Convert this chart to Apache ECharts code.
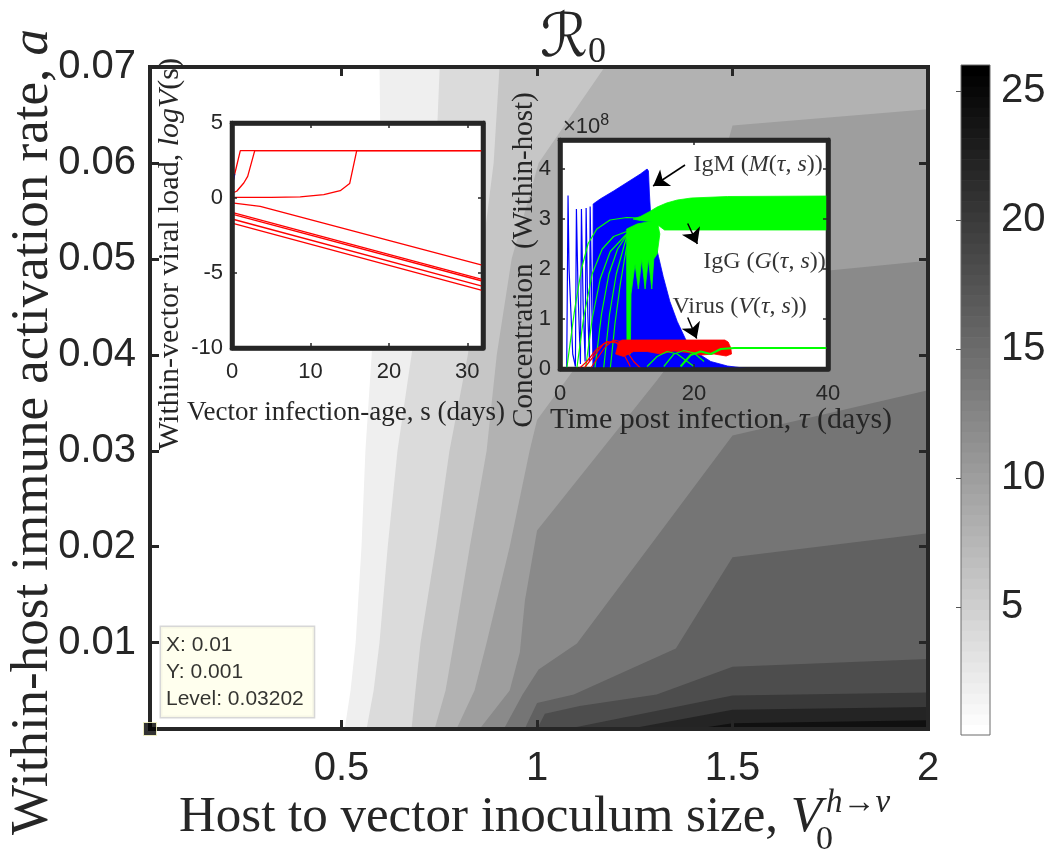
<!DOCTYPE html>
<html>
<head>
<meta charset="utf-8">
<script src="https://cdn.jsdelivr.net/npm/echarts@6.0.0/dist/echarts.min.js"></script>
<style>
html,body{margin:0;padding:0;background:#ffffff;}
#chart{width:1060px;height:853px;}
</style>
</head>
<body>
<div id="chart"></div>
<script>
// ---------------- main contour plot (R0) ----------------
const xTicks = [0.5, 1, 1.5, 2];
const yTicks = [0.01, 0.02, 0.03, 0.04, 0.05, 0.06, 0.07];
const xRange = [0.01, 2];
const yRange = [0.001, 0.07];
const colorTicks = [5, 10, 15, 20, 25];
const colorRange = [0.03202, 26];
const levels = [2, 4, 6, 8, 10, 12, 14, 16, 18, 20, 22, 24];
// contour lines [V0, a], from the upper/right end to the lower end
const c02 = [[0.597,0.07],[0.600,0.06],[0.590,0.05],[0.577,0.04],[0.561,0.03],[0.551,0.02],[0.536,0.01],[0.523,0.005],[0.508,0.001]];
const c04 = [[0.751,0.07],[0.741,0.06],[0.715,0.05],[0.679,0.04],[0.643,0.03],[0.618,0.02],[0.597,0.01],[0.582,0.005],[0.564,0.001]];
const c06 = [[0.904,0.07],[0.889,0.06],[0.858,0.05],[0.823,0.04],[0.776,0.03],[0.741,0.02],[0.702,0.01],[0.689,0.005],[0.679,0.001]];
const c08 = [[1.173,0.07],[1.004,0.06],[0.935,0.05],[0.897,0.04],[0.871,0.03],[0.828,0.02],[0.787,0.01],[0.766,0.005],[0.738,0.001]];
const c10 = [[2.0,0.0656],[1.5,0.0639],[1.473,0.06],[1.301,0.05],[1.122,0.04],[1.0,0.0332],[0.981,0.03],[0.930,0.02],[0.871,0.01],[0.840,0.005],[0.794,0.001]];
const c12 = [[2.0,0.0498],[1.5,0.0478],[1.306,0.0373],[1.0,0.0217],[0.969,0.0144],[0.956,0.009],[0.930,0.005],[0.853,0.001]];
const c14 = [[2.0,0.0363],[1.5,0.0316],[1.102,0.0099],[1.004,0.0072],[0.963,0.0046],[0.915,0.001]];
const c16 = [[2.0,0.0214],[1.5,0.0189],[1.355,0.0094],[1.094,0.0046],[1.0,0.0037],[0.974,0.0015],[0.969,0.001]];
const c18 = [[2.0,0.0083],[1.5,0.0075],[1.306,0.0046],[1.109,0.0034],[1.02,0.0026],[1.0,0.001]];
const c20 = [[2.0,0.0048],[1.5,0.0045],[1.076,0.001]];
const c22 = [[2.0,0.0033],[1.5,0.0030],[1.235,0.001]];
const c24 = [[2.0,0.0019],[1.5,0.0016],[1.404,0.001]];
const contourLines = [c02, c04, c06, c08, c10, c12, c14, c16, c18, c20, c22, c24];
const tipPoint = [0.01, 0.001];
const tipLevel = 0.03202;

// ---------------- left inset: within-vector viral load ----------------
const logVRiseA = [[0,0.78],[0.3,1.5],[1.06,3.16],[32,3.16]];
const logVRiseB = [[0,0.33],[0.6,0.45],[1.5,1.0],[2.0,1.44],[2.9,3.16],[32,3.16]];
const logVRiseC = [[0,0.04],[5,0.04],[8.7,0.07],[11.7,0.22],[13.8,0.49],[15,0.96],[15.9,3.16],[32,3.16]];
const logVDecayA = [[0,-0.33],[3.6,-0.56],[32,-4.49]];
const logVDecayB = [[0,-0.96],[32,-5.44]];
const logVDecayC = [[0,-1.07],[32,-5.55]];
const logVDecayD = [[0,-1.40],[32,-5.89]];
const logVDecayE = [[0,-1.67],[32,-6.18]];
const logVBlue = [[0,0.75],[0.35,1.6]];

// ---------------- right inset: within-host concentrations (x 1e8) ----------------
const igmSpikes = [[1.0,0.02],[1.2,3.47],[1.35,2.0],[1.9,0.3],[2.3,0.05],[2.45,3.2],[2.7,1.5],[3.05,0.1],[3.2,3.2],[3.45,1.3],[3.75,0.15],[3.9,3.22],[4.15,1.1],[4.4,0.15],[4.5,3.25],[4.75,1.2],[4.95,0.3]];
const igmBlock = [[4.9,0],[4.95,3.3],[6,3.4],[8,3.56],[10,3.73],[12,3.9],[13.0,4.0],[13.2,3.96],[13.35,3.5],[13.55,3.05],[14.0,2.65],[14.7,2.25],[15.4,1.85],[16.4,1.35],[17.5,0.95],[18.9,0.55],[20.5,0.32],[22.5,0.15],[25,0.06],[28.5,0.0]];
const igmBase = [[25,0.01],[40,0.0]];
const iggBand = [[10.9,3.0],[12,3.05],[13.4,3.15],[14.5,3.24],[15.9,3.32],[17.5,3.38],[19.6,3.42],[25,3.45],[40,3.46],[40,2.78],[15.6,2.78],[14.8,2.86],[13.5,2.95],[12,2.97]];
const iggBlade = [[9.95,2.8],[11.5,2.9],[13.4,2.95],[14.6,2.9],[14.9,2.7],[14.5,2.3],[14.0,2.2],[13.7,1.6],[13.2,2.2],[12.7,1.6],[12.2,2.2],[11.7,1.6],[11.2,2.1],[10.6,1.5],[10.5,0.3],[10.0,0.3],[9.95,2.0]];
const iggRiseA = [[1.0,0],[2.2,1.2],[3.2,2.0],[4.2,2.51],[5.5,2.8],[7.46,2.98],[9.95,3.03],[13.4,3.01]];
const iggRiseB = [[2.5,0],[3.5,1.0],[4.8,1.9],[6.3,2.4],[8,2.65],[9.95,2.75]];
const iggRiseC = [[3.8,0],[4.8,1.0],[6,1.8],[7.5,2.35],[9.95,2.7]];
const iggRiseD = [[5.2,0],[6.2,1.1],[7.3,1.9],[8.6,2.4],[9.95,2.68]];
const iggRiseE = [[6.5,0],[7.4,1.1],[8.4,1.9],[9.95,2.65]];
const iggRiseF = [[7.5,0],[8.2,0.9],[9.0,1.7],[9.95,2.45]];
const iggHumpA = [[13,0.05],[14.5,0.25],[16,0.35],[17.5,0.3],[19,0.15],[20,0.05]];
const iggHumpB = [[15.5,0.05],[17,0.3],[18.5,0.37],[20,0.32],[21.5,0.15]];
const iggLow = [[18,0.05],[19.5,0.28],[21,0.35],[22.5,0.3],[24,0.4],[26,0.42],[40,0.42]];
const virusBand = [[8.3,0.3],[8.8,0.55],[9.3,0.58],[24.6,0.58],[25.1,0.54],[25.5,0.42],[25.6,0.3],[24.8,0.26],[23,0.3],[21,0.28],[19,0.33],[17,0.36],[15,0.3],[13,0.35],[11,0.35],[9.5,0.25]];
const virusHumpA = [[2.8,0],[4,0.15],[5.5,0.4],[7,0.55],[8.5,0.52],[9.5,0.3],[10.5,0.05]];
const virusHumpB = [[4.5,0],[5.5,0.2],[6.8,0.45],[8,0.58],[9,0.55]];
const virusHumpC = [[3.5,0],[5,0.25],[6.5,0.5],[8,0.56],[9.5,0.45],[11,0.15],[12,0.02]];
const arrowIgM = [[18.66,4.08],[13.9,3.66]];
const arrowIgG = [[19.06,2.91],[20.5,2.5]];
const arrowVirus = [[19.06,1.03],[20.4,0.61]];
const labelIgM = [19.85, 4.08];
const labelIgG = [21.3, 2.14];
const labelVirus = [16.7, 1.24];

// ---------------- helpers ----------------
const INK = '#262626';
const SANS = '"Liberation Sans", Arial, Helvetica, sans-serif';
const SERIF = '"Liberation Serif", "Times New Roman", serif';

function grayHex(v) {
  const t = (v - colorRange[0]) / (colorRange[1] - colorRange[0]);
  const idx = Math.max(0, Math.min(63, Math.floor(t * 64)));
  const g = Math.round(255 * (1 - idx / 63));
  return 'rgb(' + g + ',' + g + ',' + g + ')';
}

function frameX(gridIndex, min, max, pos, lw, tickLen, tickW, labelOpt, interval, custom) {
  const ax = {
    type: 'value', gridIndex: gridIndex, min: min, max: max, position: pos, z: 12,
    axisLine: { show: true, onZero: false, lineStyle: { color: INK, width: lw } },
    axisTick: { show: true, inside: true, length: tickLen, lineStyle: { color: INK, width: tickW } },
    axisLabel: labelOpt ? Object.assign({ show: true, color: INK, fontFamily: SANS }, labelOpt) : { show: false },
    splitLine: { show: false }
  };
  if (interval) ax.interval = interval;
  if (custom) { ax.axisTick.customValues = custom; if (labelOpt) ax.axisLabel.customValues = custom; }
  return ax;
}

function lineS(data, color, xi, yi, w, z) {
  return { type: 'line', data: data, xAxisIndex: xi, yAxisIndex: yi, showSymbol: false, symbol: 'none',
    lineStyle: { color: color, width: w }, z: z, silent: true, animation: false, clip: true };
}

function polyS(polys, xi, yi, z) {
  return { type: 'custom', xAxisIndex: xi, yAxisIndex: yi, z: z, silent: true, clip: true,
    data: polys.map((p, i) => [p.pts[0][0], p.pts[0][1], i]),
    renderItem: function (params, api) {
      const p = polys[params.dataIndex];
      return { type: 'polygon', shape: { points: p.pts.map(q => api.coord(q)) },
        style: { fill: p.color, stroke: p.color, lineWidth: 0.8 } };
    } };
}

const chart = echarts.init(document.getElementById('chart'), null, { renderer: 'canvas' });

const option = {
  animation: false,
  backgroundColor: '#ffffff',
  grid: [
    { left: 150, top: 67, width: 778, height: 662, show: true, backgroundColor: '#ffffff', borderColor: INK, borderWidth: 4, z: 0 },
    { left: 961, top: 65, width: 29, height: 670 },
    { left: 232, top: 123, width: 251, height: 225, show: true, backgroundColor: '#ffffff', borderColor: INK, borderWidth: 4.5, z: 3 },
    { left: 560, top: 140, width: 268, height: 229, show: true, backgroundColor: '#ffffff', borderColor: INK, borderWidth: 4.5, z: 3 }
  ],
  xAxis: [
    frameX(0, xRange[0], xRange[1], 'bottom', 4, 9, 3, { fontSize: 40, margin: 20, formatter: v => String(v) }, null, xTicks),
    frameX(0, xRange[0], xRange[1], 'top', 4, 9, 3, null, null, xTicks),
    { type: 'value', gridIndex: 1, min: 0, max: 1, show: false },
    frameX(2, 0, 32, 'bottom', 4.5, 5, 1.5, { fontSize: 22, margin: 13, showMaxLabel: false }, 10),
    frameX(2, 0, 32, 'top', 4.5, 5, 1.5, null, 10),
    frameX(3, 0, 40, 'bottom', 4.5, 5, 1.5, { fontSize: 22, margin: 14 }, 20),
    frameX(3, 0, 40, 'top', 4.5, 5, 1.5, null, 20)
  ],
  yAxis: [
    frameX(0, yRange[0], yRange[1], 'left', 4, 9, 3, { fontSize: 40, margin: 14, formatter: v => v.toFixed(2) }, null, yTicks),
    frameX(0, yRange[0], yRange[1], 'right', 4, 9, 3, null, null, yTicks),
    { type: 'value', gridIndex: 1, min: colorRange[0], max: colorRange[1], position: 'right', z: 12,
      axisLine: { show: false },
      axisTick: { show: true, inside: true, length: 5, lineStyle: { color: '#555555', width: 1 }, customValues: colorTicks },
      axisLabel: { show: true, customValues: colorTicks, fontSize: 40, margin: 11, color: INK, fontFamily: SANS },
      splitLine: { show: false } },
    frameX(2, -10, 5, 'left', 4.5, 5, 1.5, { fontSize: 22, margin: 9 }, 5),
    frameX(2, -10, 5, 'right', 4.5, 5, 1.5, null, 5),
    frameX(3, 0, 4.58, 'left', 4.5, 5, 1.5, { fontSize: 22, margin: 9, showMaxLabel: false }, 1),
    frameX(3, 0, 4.58, 'right', 4.5, 5, 1.5, null, 1)
  ],
  series: [
    // filled contour bands
    { type: 'custom', xAxisIndex: 0, yAxisIndex: 0, z: 2, silent: true, clip: true,
      data: levels.map((L, i) => [xRange[0], yRange[0], i]),
      renderItem: function (params, api) {
        const i = params.dataIndex;
        const line = contourLines[i];
        const pts = line.map(p => api.coord(p));
        pts.push(api.coord([xRange[1], yRange[0]]));
        if (line[0][1] >= yRange[1] - 1e-9) pts.push(api.coord([xRange[1], yRange[1]]));
        const col = grayHex(levels[i]);
        return { type: 'polygon', shape: { points: pts }, style: { fill: col } };
      } },
    // colorbar
    { type: 'custom', xAxisIndex: 2, yAxisIndex: 2, z: 5, silent: true,
      data: [[0, colorRange[0]]],
      renderItem: function (params, api) {
        const children = [];
        const n = 64;
        for (let k = 0; k < n; k++) {
          const v0 = colorRange[0] + (colorRange[1] - colorRange[0]) * k / n;
          const v1 = colorRange[0] + (colorRange[1] - colorRange[0]) * (k + 1) / n;
          const p0 = api.coord([0, v0]);
          const p1 = api.coord([1, v1]);
          const g = Math.round(255 * (1 - k / 63));
          children.push({ type: 'rect', shape: { x: p0[0], y: p1[1], width: p1[0] - p0[0], height: p0[1] - p1[1] + 0.6 },
            style: { fill: 'rgb(' + g + ',' + g + ',' + g + ')' } });
        }
        const a = api.coord([0, colorRange[0]]);
        const b = api.coord([1, colorRange[1]]);
        children.push({ type: 'rect', shape: { x: a[0], y: b[1], width: b[0] - a[0], height: a[1] - b[1] },
          style: { fill: 'none', stroke: '#6b6b6b', lineWidth: 1 } });
        return { type: 'group', children: children };
      } },
    // data tip
    { type: 'scatter', xAxisIndex: 0, yAxisIndex: 0, z: 40, silent: true, clip: false,
      symbol: 'rect', symbolSize: 13,
      itemStyle: { color: '#000000', borderColor: '#ffffc8', borderWidth: 1 },
      data: [tipPoint],
      label: { show: true, position: [18, -95], align: 'left', verticalAlign: 'top',
        formatter: 'X: ' + tipPoint[0] + '\nY: ' + tipPoint[1] + '\nLevel: ' + tipLevel,
        backgroundColor: '#ffffea', borderColor: '#cdcdcd', borderWidth: 1.5, padding: [5, 10, 4, 5],
        fontSize: 21, lineHeight: 27, fontFamily: SANS, color: '#000000' } },

    // left inset
    lineS(logVDecayA, '#ff0000', 3, 3, 1.3, 6),
    lineS(logVDecayB, '#ff0000', 3, 3, 1.3, 6),
    lineS(logVDecayC, '#ff0000', 3, 3, 1.3, 6),
    lineS(logVDecayD, '#ff0000', 3, 3, 1.3, 6),
    lineS(logVDecayE, '#ff0000', 3, 3, 1.3, 6),
    lineS(logVRiseC, '#ff0000', 3, 3, 1.3, 6),
    lineS(logVRiseB, '#ff0000', 3, 3, 1.3, 6),
    lineS(logVRiseA, '#ff0000', 3, 3, 1.3, 6),
    lineS(logVBlue, '#0000ff', 3, 3, 1.3, 7),

    // right inset
    polyS([{ pts: igmBlock, color: '#0000ff' }], 5, 5, 5),
    lineS(igmSpikes, '#0000ff', 5, 5, 1.2, 5),
    lineS(igmBase, '#0000ff', 5, 5, 1.5, 5),
    lineS(iggRiseA, '#00ff00', 5, 5, 1.2, 6),
    lineS(iggRiseB, '#00ff00', 5, 5, 1.2, 6),
    lineS(iggRiseC, '#00ff00', 5, 5, 1.2, 6),
    lineS(iggRiseD, '#00ff00', 5, 5, 1.2, 6),
    lineS(iggRiseE, '#00ff00', 5, 5, 1.2, 6),
    lineS(iggRiseF, '#00ff00', 5, 5, 1.2, 6),
    polyS([{ pts: iggBand, color: '#00ff00' }, { pts: iggBlade, color: '#00ff00' }], 5, 5, 6),
    polyS([{ pts: virusBand, color: '#ff0000' }], 5, 5, 7),
    lineS(virusHumpA, '#ff0000', 5, 5, 1.2, 7),
    lineS(virusHumpB, '#ff0000', 5, 5, 1.2, 7),
    lineS(virusHumpC, '#ff0000', 5, 5, 1.2, 7),
    lineS(iggHumpA, '#00ff00', 5, 5, 1.2, 7),
    lineS(iggHumpB, '#00ff00', 5, 5, 1.2, 7),
    lineS(iggLow, '#00ff00', 5, 5, 2, 7),
    { type: 'lines', coordinateSystem: 'cartesian2d', xAxisIndex: 5, yAxisIndex: 5, z: 9, silent: true,
      symbol: ['none', 'arrow'], symbolSize: 15,
      lineStyle: { color: '#000000', width: 1.5, opacity: 1, curveness: 0 },
      data: [{ coords: arrowIgM }, { coords: arrowIgG }, { coords: arrowVirus }] },
    { type: 'scatter', xAxisIndex: 5, yAxisIndex: 5, z: 9, silent: true, symbolSize: 1, clip: false,
      itemStyle: { color: 'rgba(0,0,0,0)' },
      data: [
        { value: labelIgM, name: 'IgM ({i|M}({i|τ}, {i|s}))' },
        { value: labelIgG, name: 'IgG ({i|G}({i|τ}, {i|s}))' },
        { value: labelVirus, name: 'Virus ({i|V}({i|τ}, {i|s}))' }
      ],
      labelLayout: { hideOverlap: false },
      label: { show: true, position: 'right', distance: 0, formatter: p => p.name,
        fontFamily: SERIF, fontSize: 24, color: '#000000', textBorderWidth: 0,
        rich: { i: { fontFamily: SERIF, fontStyle: 'italic', fontSize: 24, color: '#000000', textBorderWidth: 0 } } } }
  ],
  graphic: [
    { type: 'text', x: 573, y: 40, z: 100, silent: true,
      style: { text: '{r|ℛ}{s|0}', textAlign: 'center', textVerticalAlign: 'middle',
        rich: { r: { fontFamily: '"DejaVu Serif", "DejaVu Sans", serif', fontStyle: 'italic', fontSize: 60, fill: INK },
                s: { fontFamily: SERIF, fontSize: 36, fill: INK, padding: [26, 0, 0, 0] } } } },
    { type: 'text', x: 822, y: 818, z: 100, silent: true,
      style: { text: 'Host to vector inoculum size, {i|V}', textAlign: 'right', textVerticalAlign: 'middle',
        fontFamily: SERIF, fontSize: 51, fill: INK,
        rich: { i: { fontFamily: SERIF, fontStyle: 'italic', fontSize: 51, fill: INK } } } },
    { type: 'text', x: 816, y: 840, z: 100, silent: true,
      style: { text: '0', textAlign: 'left', textVerticalAlign: 'middle', fontFamily: SERIF, fontSize: 34, fill: INK } },
    { type: 'text', x: 826, y: 803, z: 100, silent: true,
      style: { text: 'h→v', textAlign: 'left', textVerticalAlign: 'middle', fontFamily: SERIF, fontStyle: 'italic', fontSize: 33, fill: INK } },
    { type: 'text', x: 33, y: 432, rotation: Math.PI / 2, z: 100, silent: true,
      style: { text: 'Within-host immune activation rate, {i|a}', textAlign: 'center', textVerticalAlign: 'middle',
        fontFamily: SERIF, fontSize: 53, fill: INK,
        rich: { i: { fontFamily: SERIF, fontStyle: 'italic', fontSize: 53, fill: INK } } } },
    { type: 'text', x: 170, y: 254, rotation: Math.PI / 2, z: 100, silent: true,
      style: { text: 'Within-vector viral load, {i|logV}(s)', textAlign: 'center', textVerticalAlign: 'middle',
        fontFamily: SERIF, fontSize: 30, fill: INK,
        rich: { i: { fontFamily: SERIF, fontStyle: 'italic', fontSize: 30, fill: INK } } } },
    { type: 'text', x: 346, y: 413, z: 100, silent: true,
      style: { text: 'Vector infection-age, s (days)', textAlign: 'center', textVerticalAlign: 'middle',
        fontFamily: SERIF, fontSize: 27, fill: INK } },
    { type: 'text', x: 524, y: 260, rotation: Math.PI / 2, z: 100, silent: true,
      style: { text: 'Concentration  (Within-host)', textAlign: 'center', textVerticalAlign: 'middle',
        fontFamily: SERIF, fontSize: 29, fill: INK } },
    { type: 'text', x: 721, y: 420, z: 100, silent: true,
      style: { text: 'Time post infection, {i|τ} (days)', textAlign: 'center', textVerticalAlign: 'middle',
        fontFamily: SERIF, fontSize: 30, fill: INK,
        rich: { i: { fontFamily: SERIF, fontStyle: 'italic', fontSize: 30, fill: INK } } } },
    { type: 'text', x: 563, y: 127, z: 100, silent: true,
      style: { text: '×10{s|8}', textAlign: 'left', textVerticalAlign: 'middle',
        fontFamily: SANS, fontSize: 22, fill: INK,
        rich: { s: { fontFamily: SANS, fontSize: 16, fill: INK, padding: [0, 0, 12, 0] } } } }
  ]
};

chart.setOption(option);
</script>
</body>
</html>
